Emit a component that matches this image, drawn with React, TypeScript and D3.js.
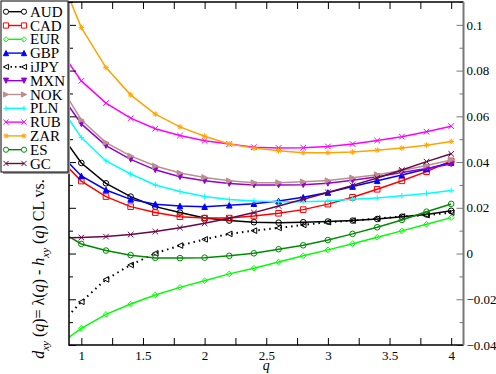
import { useEffect, useRef } from 'react';
import * as d3 from 'd3';

// q grid (first point lies just left of the visible range)
const qValues = [0.8, 1.0, 1.2, 1.4, 1.6, 1.8, 2.0, 2.2, 2.4, 2.6, 2.8, 3.0, 3.2, 3.4, 3.6, 3.8, 4.0];

const AUD = [0.0547, 0.0396, 0.0307, 0.0249, 0.0205, 0.0179, 0.0155, 0.0144, 0.0137, 0.0135, 0.0137, 0.014, 0.0144, 0.0151, 0.0161, 0.0171, 0.0187];
const CAD = [0.0428, 0.0317, 0.0249, 0.0205, 0.0179, 0.0161, 0.0155, 0.0155, 0.0164, 0.0176, 0.0192, 0.0216, 0.0246, 0.0281, 0.0318, 0.0358, 0.0405];
const EUR = [-0.0404, -0.0327, -0.0266, -0.0221, -0.0181, -0.0148, -0.0119, -0.0089, -0.0064, -0.0037, -0.001, 0.0016, 0.0043, 0.0071, 0.0099, 0.0128, 0.0157];
const GBP = [0.0452, 0.0339, 0.0278, 0.0237, 0.0216, 0.0208, 0.0205, 0.0211, 0.0218, 0.023, 0.0246, 0.0267, 0.0293, 0.0318, 0.0343, 0.037, 0.0398];
const iJPY = [-0.0326, -0.0211, -0.0113, -0.005, 0.0001, 0.0035, 0.0062, 0.0086, 0.01, 0.0112, 0.0125, 0.0137, 0.0144, 0.0153, 0.0162, 0.0168, 0.0179];
const MXN = [0.072, 0.0567, 0.0472, 0.0412, 0.0366, 0.0336, 0.0318, 0.0306, 0.03, 0.03, 0.0301, 0.0307, 0.032, 0.0336, 0.0354, 0.0372, 0.0392];
const NOK = [0.076, 0.0584, 0.0485, 0.0427, 0.0383, 0.0352, 0.0333, 0.0318, 0.031, 0.031, 0.0314, 0.0319, 0.0331, 0.0345, 0.0363, 0.0385, 0.0409];
const PLN = [0.0667, 0.0507, 0.0405, 0.0348, 0.03, 0.0271, 0.0249, 0.0236, 0.023, 0.0227, 0.0227, 0.023, 0.0237, 0.0243, 0.0253, 0.0263, 0.0276];
const RUB = [0.091, 0.0755, 0.0658, 0.0592, 0.0546, 0.0516, 0.0493, 0.0479, 0.0465, 0.0462, 0.0463, 0.0468, 0.0479, 0.0494, 0.0511, 0.0533, 0.0557];
const ZAR = [0.125, 0.0988, 0.0813, 0.0694, 0.061, 0.0554, 0.0513, 0.0479, 0.0461, 0.045, 0.0441, 0.0441, 0.0444, 0.0452, 0.0461, 0.0474, 0.049];
const ES = [0.0106, 0.0042, 0.0013, -0.0007, -0.0019, -0.002, -0.0018, -0.001, 0.0001, 0.0019, 0.0036, 0.0059, 0.0086, 0.0115, 0.0147, 0.0183, 0.0217];
const GC = [0.0068, 0.007, 0.0074, 0.0083, 0.0096, 0.0113, 0.0132, 0.0154, 0.0179, 0.0208, 0.0237, 0.0267, 0.0298, 0.033, 0.0365, 0.0402, 0.0436];

const seriesNames = ['AUD', 'CAD', 'EUR', 'GBP', 'iJPY', 'MXN', 'NOK', 'PLN', 'RUB', 'ZAR', 'ES', 'GC'];
const seriesValues = [AUD, CAD, EUR, GBP, iJPY, MXN, NOK, PLN, RUB, ZAR, ES, GC];
const seriesColors = ['#000000', '#ff0000', '#00ff00', '#0000ff', '#000000', '#9400d3', '#bc8f8f', '#00ffff', '#ff00ff', '#ffa500', '#008b00', '#670748'];
const seriesSymbols = ['circle', 'square', 'diamond', 'triUp', 'triLeft', 'triDown', 'triRight', 'plus', 'x', 'star', 'circle', 'x'];

const yMajorTicks = [-0.04, -0.02, 0, 0.02, 0.04, 0.06, 0.08, 0.1];
const xMajorTicks = [1, 1.5, 2, 2.5, 3, 3.5, 4];

const W = 496, H = 374;

function symbolPath(type: string, s: number) {
  switch (type) {
    case 'circle':
      return `M${s},0A${s},${s} 0 1,1 ${-s},0A${s},${s} 0 1,1 ${s},0Z`;
    case 'square':
      return `M${-s},${-s}H${s}V${s}H${-s}Z`;
    case 'diamond':
      return `M0,${-s}L${s},0L0,${s}L${-s},0Z`;
    case 'triUp':
      return `M0,${-s}L${s},${s}L${-s},${s}Z`;
    case 'triDown':
      return `M0,${s}L${s},${-s}L${-s},${-s}Z`;
    case 'triLeft':
      return `M${-s},0L${s},${-s}L${s},${s}Z`;
    case 'triRight':
      return `M${s},0L${-s},${-s}L${-s},${s}Z`;
    case 'plus':
      return `M${-s},0H${s}M0,${-s}V${s}`;
    case 'x':
      return `M${-s},${-s}L${s},${s}M${-s},${s}L${s},${-s}`;
    case 'star':
      return `M${-s},0H${s}M0,${-s}V${s}M${-s * 0.75},${-s * 0.75}L${s * 0.75},${s * 0.75}M${-s * 0.75},${s * 0.75}L${s * 0.75},${-s * 0.75}`;
  }
  return '';
}

const filled = new Set(['triUp', 'triDown', 'triRight']);
const font = 'Liberation Serif';

export default function App() {
  const svgRef = useRef<SVGSVGElement>(null);

  useEffect(() => {
    const svg = d3.select(svgRef.current);
    svg.selectAll('*').remove();

    const left = 69, right = 463.5, top = 2, bottom = 345;
    const x = d3.scaleLinear().domain([0.9, 4.1]).range([left, right]);
    const y = d3.scaleLinear().domain([-0.04, 0.11]).range([bottom, top]);

    svg.append('rect').attr('width', W).attr('height', H).attr('fill', '#fff');

    svg.append('defs').append('clipPath').attr('id', 'plotclip')
      .append('rect').attr('x', left).attr('y', top).attr('width', right - left).attr('height', bottom - top);

    const plot = svg.append('g').attr('clip-path', 'url(#plotclip)');
    const line = d3.line<number>().x((_, i) => x(qValues[i])).y(d => y(d));

    seriesValues.forEach((vals, k) => {
      const color = seriesColors[k];
      plot.append('path')
        .attr('d', line(vals))
        .attr('fill', 'none')
        .attr('stroke', color)
        .attr('stroke-width', seriesNames[k] === 'iJPY' ? 2 : 1.5)
        .attr('stroke-dasharray', seriesNames[k] === 'iJPY' ? '1.5,4' : null);
      plot.selectAll(null)
        .data(vals.map((v, i) => [qValues[i], v]).filter(d => d[0] >= 1))
        .enter().append('path')
        .attr('transform', d => `translate(${x(d[0])},${y(d[1])})`)
        .attr('d', symbolPath(seriesSymbols[k], 2.8))
        .attr('fill', filled.has(seriesSymbols[k]) ? color : 'none')
        .attr('stroke', color)
        .attr('stroke-width', 1);
    });

    const styleAxis = (g: any, color: string) => {
      g.attr('font-family', null);
      g.select('.domain').remove();
      g.selectAll('line').attr('stroke', color);
      g.selectAll('text').style('font-family', font).attr('font-size', 13).attr('fill', '#000');
    };

    const xMinor = d3.range(1, 4.01, 0.25);
    svg.append('g').attr('transform', `translate(0,${bottom})`)
      .call(d3.axisBottom(x).tickValues(xMinor).tickSize(-7).tickFormat(() => ''))
      .call(g => styleAxis(g, '#000'));
    svg.append('g').attr('transform', `translate(0,${bottom})`)
      .call(d3.axisBottom(x).tickValues(xMajorTicks).tickSize(0).tickPadding(6).tickFormat(d3.format('')))
      .call(g => styleAxis(g, '#000'));
    svg.append('g').attr('transform', `translate(0,${top})`)
      .call(d3.axisTop(x).tickValues(xMinor).tickSize(-7).tickFormat(() => ''))
      .call(g => styleAxis(g, '#000'));

    const yMinor = d3.range(-0.03, 0.11, 0.02);
    svg.append('g').attr('transform', `translate(${left},0)`)
      .call(d3.axisLeft(y).tickValues(yMajorTicks).tickSize(-7).tickFormat(() => ''))
      .call(g => styleAxis(g, '#000'));
    svg.append('g').attr('transform', `translate(${left},0)`)
      .call(d3.axisLeft(y).tickValues(yMinor).tickSize(-4).tickFormat(() => ''))
      .call(g => styleAxis(g, '#000'));
    svg.append('g').attr('transform', `translate(${right},0)`)
      .call(d3.axisRight(y).tickValues(yMajorTicks).tickSize(-7).tickPadding(3).tickFormat(d3.format('')))
      .call(g => styleAxis(g, '#777'));
    svg.append('g').attr('transform', `translate(${right},0)`)
      .call(d3.axisRight(y).tickValues(yMinor).tickSize(-4).tickFormat(() => ''))
      .call(g => styleAxis(g, '#777'));

    // frame
    svg.append('path').attr('d', `M${right},${top}H${left}V${bottom}H${right}`)
      .attr('fill', 'none').attr('stroke', '#000').attr('stroke-width', 1.5);
    svg.append('line').attr('x1', right).attr('x2', right).attr('y1', top).attr('y2', bottom)
      .attr('stroke', '#777').attr('stroke-width', 2);

    // axis labels
    svg.append('text').attr('x', x(2.5)).attr('y', 370).attr('text-anchor', 'middle')
      .style('font-family', font).attr('font-size', 14).attr('font-style', 'italic').text('q');

    const yl = svg.append('text').attr('transform', 'translate(44,269) rotate(-90)')
      .attr('text-anchor', 'middle').style('font-family', font).attr('font-size', 16);
    const parts: [string, string][] = [
      ['d', 'i'], ['xy', 's'], [' (', 'n'], ['q', 'i'], [')= λ(', 'n'], ['q', 'i'], [') - ', 'n'],
      ['h', 'i'], ['xy', 's'], [' (', 'n'], ['q', 'i'], [') CL vs.', 'n'],
    ];
    let prevSub = false;
    parts.forEach(([t, kind]) => {
      const ts = yl.append('tspan').text(t);
      if (kind === 'i') ts.attr('font-style', 'italic');
      if (kind === 's') {
        ts.attr('font-style', 'italic').attr('font-size', 11).attr('dy', 4.5);
        prevSub = true;
      } else if (prevSub) {
        ts.attr('dy', -4.5);
        prevSub = false;
      }
    });

    // legend
    const lg = svg.append('g');
    lg.append('rect').attr('x', 3).attr('y', 3).attr('width', 67).attr('height', 171).attr('fill', '#999');
    lg.append('rect').attr('x', 1).attr('y', 1).attr('width', 67).attr('height', 171)
      .attr('fill', '#fff').attr('stroke', '#000').attr('stroke-width', 1);
    seriesNames.forEach((name, k) => {
      const cy = 11.7 + k * 13.8;
      const color = seriesColors[k];
      lg.append('line').attr('x1', 6).attr('x2', 24).attr('y1', cy).attr('y2', cy)
        .attr('stroke', color).attr('stroke-width', name === 'iJPY' ? 1.6 : 1.4)
        .attr('stroke-dasharray', name === 'iJPY' ? '1.5,3' : null);
      [6, 24].forEach(cx => {
        lg.append('path').attr('transform', `translate(${cx},${cy})`)
          .attr('d', symbolPath(seriesSymbols[k], 2.6))
          .attr('fill', filled.has(seriesSymbols[k]) ? color : '#fff')
          .attr('stroke', color).attr('stroke-width', 1);
      });
      lg.append('text').attr('x', 30).attr('y', cy + 5).style('font-family', font)
        .attr('font-size', 15).text(name);
    });
  }, []);

  return <svg ref={svgRef} width={W} height={H} style={{ position: 'absolute', left: 0, top: 0 }}></svg>;
}
